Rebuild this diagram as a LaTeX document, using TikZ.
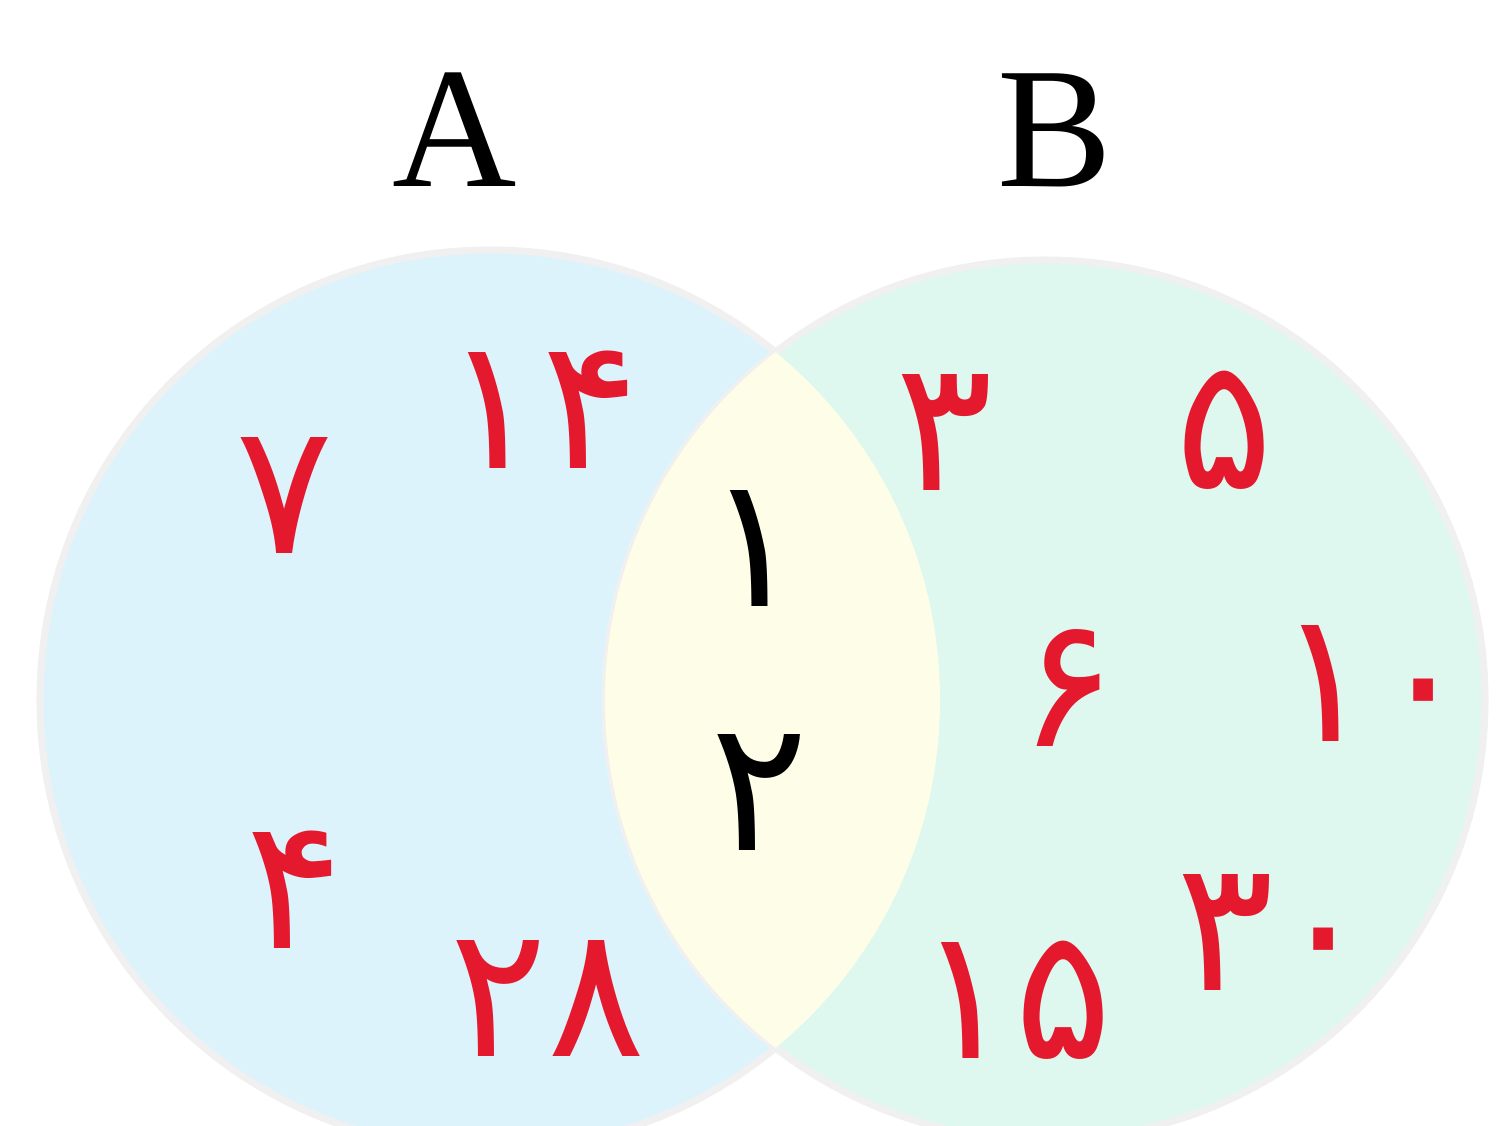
\documentclass[tikz,border=0pt]{standalone}
\usepackage{fontspec}
\setmainfont{Liberation Serif}
\newfontfamily\arabicfont[Script=Arabic]{DejaVu Sans}
\usepackage{xcolor}
\definecolor{setA}{HTML}{DDF3FC}
\definecolor{setB}{HTML}{DEF8EF}
\definecolor{lens}{HTML}{FEFEE8}
\definecolor{numred}{HTML}{E5192E}
\tikzset{
  setlabel/.style={font=\fontsize{49}{50}\selectfont, inner sep=0pt},
  num/.style={font=\arabicfont\fontsize{52}{54}\selectfont, text=numred, inner sep=0pt},
  common/.style={num, text=black}
}
\begin{document}
\begin{tikzpicture}
\useasboundingbox (0,0) rectangle (15.01,11.25);
\fill[white] (0,0) rectangle (15.01,11.25);
% the two sets
\fill[setA, draw=gray!12, line width=2pt] (4.90,4.25) circle (4.5);
\fill[setB, draw=gray!12, line width=2pt] (10.45,4.25) circle (4.4);
\begin{scope}
  \clip (4.90,4.25) circle (4.5);
  \fill[lens] (10.45,4.25) circle (4.4);
\end{scope}
\node[setlabel] (labA) at (4.55,9.95) {A};
\node[setlabel] (labB) at (10.55,9.95) {B};
% only in A
\node[num] (a7) at (2.85,6.30) {۷};
\node[num] (a14) at (5.42,7.15) {۱۴};
\node[num] (a4) at (2.95,2.35) {۴};
\node[num] (a28) at (5.48,1.27) {۲۸};
% in both
\node[common] (c1) at (7.55,5.77) {۱};
\node[common] (c2) at (7.60,3.33) {۲};
% only in B
\node[num] (b3) at (9.45,6.93) {۳};
\node[num] (b5) at (12.25,6.95) {۵};
\node[num] (b6) at (10.68,4.37) {۶};
\node[num] (b10) at (13.75,4.42) {۱۰};
\node[num] (b15) at (10.15,1.25) {۱۵};
\node[num] (b30) at (12.75,1.93) {۳۰};
\end{tikzpicture}
\end{document}
